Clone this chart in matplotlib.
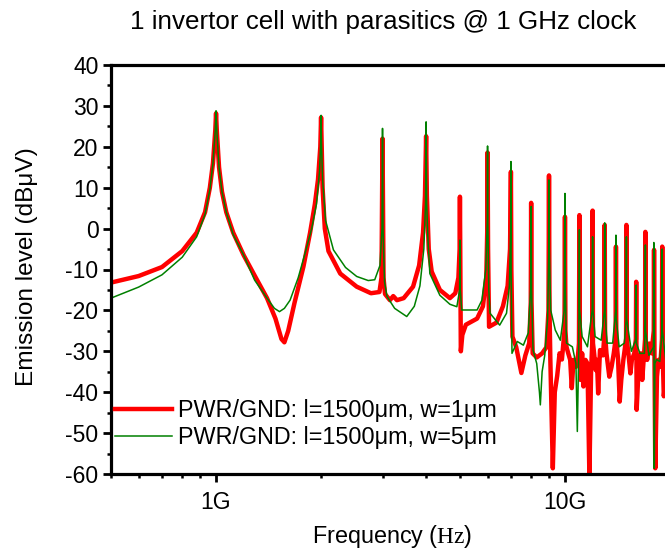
import matplotlib
matplotlib.use('Agg')
import matplotlib.pyplot as plt
from matplotlib.ticker import FixedLocator, MultipleLocator, NullFormatter

plt.rcParams['font.family'] = ['Liberation Sans', 'DejaVu Sans']
plt.rcParams['mathtext.fontset'] = 'custom'
plt.rcParams['mathtext.rm'] = 'Liberation Serif'
plt.rcParams['axes.unicode_minus'] = False

# PWR/GND w=1um trace, frequency in GHz
red_ghz = [
    0.5, 0.6, 0.7, 0.8, 0.88, 0.93, 0.96, 0.98, 0.995, 1.0, 1.005, 1.02, 1.04, 1.07, 1.12,
    1.2, 1.3, 1.4, 1.48, 1.54, 1.57, 1.61, 1.68, 1.78, 1.86, 1.92, 1.96, 1.99, 2.0, 2.02, 2.05, 2.1,
    2.27, 2.53, 2.78, 2.94, 2.98, 3.0, 3.02, 3.05, 3.15, 3.22, 3.3, 3.45, 3.67, 3.82, 3.92, 3.97, 4.0, 4.02, 4.07,
    4.15, 4.38, 4.68, 4.85, 4.95, 4.99, 5.0, 5.01, 5.03, 5.08, 5.2, 5.6, 5.82, 5.95, 5.99, 6.0, 6.02, 6.06,
    6.36, 6.64, 6.85, 6.96, 7.0, 7.02, 7.07, 7.25, 7.5, 7.7, 7.9, 7.98, 8.0, 8.02, 8.08, 8.3, 8.6, 8.85, 8.97, 9.0, 9.03,
    9.08, 9.23, 9.35, 9.5, 9.65, 9.8, 9.97, 10.0, 10.03, 10.1, 10.22, 10.35, 10.46, 10.58, 10.75, 10.9, 10.97, 11.0, 11.03,
    11.08, 11.2, 11.3, 11.45, 11.6, 11.75, 11.88, 11.97, 12.0, 12.03, 12.12, 12.25, 12.35, 12.45, 12.6, 12.85, 12.97, 13.0, 13.03,
    13.15, 13.4, 13.6, 13.8, 13.97, 14.0, 14.03, 14.2, 14.35, 14.5, 14.7, 14.97, 15.0, 15.03,
    15.2, 15.4, 15.55, 15.8, 15.97, 16.0, 16.05, 16.3, 16.5, 16.65, 16.8, 16.97, 17.0, 17.03,
    17.2, 17.45, 17.7, 17.97, 18.0, 18.05, 18.15, 18.35, 18.55, 18.75, 18.97, 19.0, 19.05, 19.2, 19.5, 20.0,
]
red_db = [
    -13.2, -11.6, -9.4, -5.5, -1, 4, 10, 16, 24, 28.2, 24, 15, 9, 4, -1,
    -6.5, -12, -17, -22, -27, -27.8, -25, -18, -9.3, -1, 6, 12, 20, 27.2, 10, 0, -5.5,
    -11, -14.2, -15.8, -15.5, -12, 22, -12, -16, -17.5, -16.5, -17.5, -17, -14.2, -9, -1, 8, 22.6, 8, -5,
    -10.5, -15, -17, -15.8, -12, -5, 7.8, -5, -30, -26, -23.5, -22, -19, -12, 0, 18.6, -5, -24,
    -23, -19, -14, -5, 13.9, -10, -26.4, -29, -35.3, -31, -28, -18, 6.3, -18, -30.5, -31.5, -30.5, -29, -20, 13, -20,
    -32, -58.6, -40, -36, -30.5, -32, -25, 2.9, -25, -28.9, -30.5, -32.1, -39, -32.1, -33.8, -31, -28, 3.3, -28,
    -37, -30.5, -38.6, -32.1, -33, -60.5, -35, -28, 4.4, -28, -30.5, -34.6, -32.1, -40.3, -29.7, -31, -26, 0.9, -26,
    -30.5, -36.2, -33.8, -30.5, -27, -4.4, -27, -32.1, -42.3, -37, -32.1, -27, 0.9, -27,
    -30.5, -35.4, -32.1, -30.5, -27, -13, -44.3, -32.1, -30.5, -37, -32.1, -27, -0.8, -27,
    -32.1, -28.1, -30.5, -25, -5.2, -30, -58.6, -36.2, -32.1, -33.8, -27, -4.4, -30, -41, -35, -33,
]

# PWR/GND w=5um trace
green_ghz = [
    0.5, 0.6, 0.7, 0.8, 0.88, 0.93, 0.96, 0.98, 0.995, 1.0, 1.005, 1.02, 1.04, 1.07, 1.12,
    1.2, 1.29, 1.4, 1.47, 1.52, 1.57, 1.63, 1.72, 1.8, 1.88, 1.94, 1.98, 1.995, 2.0, 2.005, 2.02, 2.06,
    2.17, 2.35, 2.53, 2.73, 2.85, 2.95, 2.99, 3.0, 3.01, 3.04, 3.09, 3.25, 3.52, 3.7, 3.84, 3.94, 3.985, 4.0, 4.015, 4.05, 4.1,
    4.38, 4.68, 4.9, 4.99, 5.0, 5.01, 5.06, 5.6, 5.78, 5.93, 5.99, 6.0, 6.01, 6.05, 6.1, 6.5, 6.8, 6.93, 6.99, 7.0, 7.01, 7.05,
    7.3, 7.6, 7.85, 7.97, 8.0, 8.02, 8.1, 8.3, 8.45, 8.5, 8.6, 8.75, 8.92, 8.99, 9.0, 9.02, 9.1, 9.38, 9.7, 9.95, 10.0, 10.02,
    10.1, 10.5, 10.75, 10.85, 10.95, 11.0, 11.02, 11.2, 11.6, 11.97, 12.0, 12.03, 12.2, 12.7, 12.98, 13.0, 13.02, 13.2, 13.7, 13.98, 14.0, 14.02,
    14.3, 14.8, 14.98, 15.0, 15.02, 15.5, 15.98, 16.0, 16.02, 16.4, 16.9, 16.98, 17.0, 17.02, 17.4, 17.93, 17.97, 18.03, 18.1, 18.3, 18.7, 18.98, 19.0, 19.02, 19.5, 20.0,
]
green_db = [
    -17, -14.3, -11.3, -7, -2, 3.5, 9.5, 16, 24, 28.8, 24, 15, 9, 4, -1.5,
    -6.5, -12.6, -17, -19.5, -20.3, -19.5, -17.5, -12, -6, 0, 6, 14, 21, 27.7, 21, 12, 2,
    -5.2, -9.5, -11.7, -12.7, -12.5, -9, 0, 24.5, 0, -13, -16.6, -19.5, -21.5, -19, -14, -5, 6, 26.1, 6, -3, -11,
    -16.3, -18.5, -19.1, -15, -2.8, -15, -19.9, -19.9, -17.5, -10, 2, 20.2, 2, -15, -20.7, -23.6, -20.7, -14, 0, 16.4, -10, -30.5,
    -27.6, -28.5, -25.5, -15, 5.4, -15, -29.7, -33, -40, -43.1, -35, -31, -22, -5, 11.9, -5, -19.9, -24.8, -27.3, -20, 8.6, -15,
    -28, -28.9, -33, -49.6, -30, -0.3, -20, -26.4, -28.9, -20, -2, -20, -26.4, -27.3, -20, 1.4, -20, -28, -28, -20, -1.6, -22,
    -28.9, -28, -22, -2, -22, -30, -27, -13.8, -28, -30.5, -30.5, -22, -4, -25, -31, -29, -3.4, -58.6, -33, -32, -32.5, -25, -5, -25, -33, -32,
]

labels = ['PWR/GND: l=1500\u03bcm, w=1\u03bcm', 'PWR/GND: l=1500\u03bcm, w=5\u03bcm']
x_ticks = [1e9, 1e10]
x_ticklabels = ['1G', '10G']

fig = plt.figure(figsize=(6.65, 5.51), dpi=100)
# axes run a little past the right edge of the picture (to 20 GHz)
ax = fig.add_axes([111 / 665, 1 - 474 / 551, 559 / 665, 409 / 551])

ax.plot([f * 1e9 for f in red_ghz], red_db, color='#ff0000', lw=3.2,
        solid_joinstyle='round', label=labels[0])
ax.plot([f * 1e9 for f in green_ghz], green_db, color='#008000', lw=1.1,
        label=labels[1])

ax.set_xscale('log')
ax.set_xlim(0.5e9, 20e9)
ax.set_ylim(-60, 40)

ax.xaxis.set_major_locator(FixedLocator(x_ticks))
ax.set_xticklabels(x_ticklabels)
minor = [m * 10 ** e for e in (8, 9) for m in range(2, 10)]
ax.xaxis.set_minor_locator(FixedLocator(minor))
ax.xaxis.set_minor_formatter(NullFormatter())
ax.yaxis.set_major_locator(MultipleLocator(10))
ax.yaxis.set_minor_locator(MultipleLocator(5))

for s in ax.spines.values():
    s.set_linewidth(2.3)
ax.tick_params(which='major', direction='out', length=6, width=2, labelsize=16.5, pad=3)
ax.tick_params(which='minor', direction='out', length=3, width=1.8)
ax.tick_params(axis='x', which='major', pad=6)

fig.text(383 / 665, 1 - 22 / 551, '1 invertor cell with parasitics @ 1 GHz clock',
         ha='center', va='center', fontsize=18.7)
fig.text(27 / 665, 1 - 267 / 551, 'Emission level (dB\u03bcV)', rotation=90,
         ha='center', va='center', fontsize=17.6)
fig.text(392 / 665, 1 - 536 / 551, r'Frequency ($\mathrm{Hz}$)',
         ha='center', va='center', fontsize=16.8)

ax.legend(loc='lower left', bbox_to_anchor=(0.007, 0.06), frameon=False,
          fontsize=16.8, handlelength=2.45, handletextpad=0.25, borderpad=0,
          borderaxespad=0, labelspacing=0.2)

fig.savefig('out.png', dpi=100)
